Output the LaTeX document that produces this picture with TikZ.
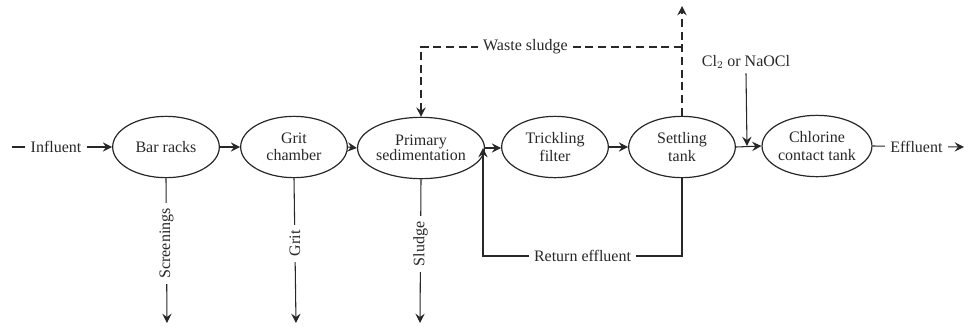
\documentclass[tikz,border=0pt]{standalone}
\usepackage{fontspec}
\setmainfont{Liberation Serif}
\usetikzlibrary{shapes.geometric,arrows.meta}
\definecolor{inkgray}{RGB}{40,40,40}

\begin{document}
\begin{tikzpicture}[x=0.75pt, y=-0.75pt,
    font=\fontsize{12}{13}\selectfont,
    unit/.style={ellipse, draw=inkgray, line width=0.9pt, minimum width=80pt, minimum height=46pt, inner sep=0pt, align=center, text=inkgray},
    flow/.style={draw=inkgray, line width=0.8pt, -{Stealth[length=7pt, width=7pt, inset=2.5pt]}},
    lbl/.style={fill=white, inner sep=4pt, text=inkgray},
    wdash/.style={dashed, dash pattern=on 6pt off 3.5pt}]
    % Frame
    \useasboundingbox (0,0) rectangle (964,326);

    % Treatment units
    \node[unit] (bar) at (166,147) {Bar racks};
    \node[unit] (grit) at (294,147) {Grit\\chamber};
    \node[unit] (prim) at (421,148) {Primary\\[-2pt]sedimentation};
    \node[unit] (trick) at (555,147) {Trickling\\filter};
    \node[unit] (settle) at (682,147) {Settling\\tank};
    \node[unit] (chl) at (817,146) {Chlorine\\contact tank};

    % Free ends
    \coordinate (inf) at (12,147);
    \coordinate (eend) at (964,147);
    \coordinate (scr) at (167,323);
    \coordinate (gr) at (296,323);
    \coordinate (sl) at (420,323);
    \coordinate (rj) at (483,148);
    \coordinate (rb) at (483,256);
    \coordinate (wtop) at (682,6);
    \coordinate (wturn) at (682,47);
    \coordinate (cj) at (747,146);

    % Main line
    \draw[flow] (inf) -- (bar.west) node[lbl, pos=0.44] {Influent};
    \draw[flow] (bar.east) -- (grit.west);
    \draw[flow] (grit.east) -- (prim.west);
    \draw[flow] (prim.east |- rj) -- (trick.west |- rj);
    \draw[flow] (trick.east) -- (settle.west);
    \draw[flow] (settle.east) -- (chl.west);
    \draw[flow] (chl.east) -- (eend) node[lbl, pos=0.48] {Effluent};

    % Solids removed
    \draw[flow] (bar.south) -- (scr) node[lbl, pos=0.45, rotate=90] {Screenings};
    \draw[flow] (grit.south) -- (gr) node[lbl, pos=0.45, rotate=90] {Grit};
    \draw[flow] (prim.south) -- (sl) node[lbl, pos=0.45, rotate=90] {Sludge};

    % Recirculation
    \draw[flow] (settle.south) |- (rb) node[lbl, pos=0.75] {Return effluent} -- (rj);

    % Waste sludge
    \draw[flow, wdash] (settle.north) -- (wtop);
    \draw[flow, wdash] (wturn) -| (prim.north) node[lbl, pos=0.3] {Waste sludge};

    % Disinfectant
    \node[text=inkgray] (cl) at (746,62) {Cl$_2$ or NaOCl};
    \draw[flow] (cl.south) -- (cj);
\end{tikzpicture}
\end{document}
